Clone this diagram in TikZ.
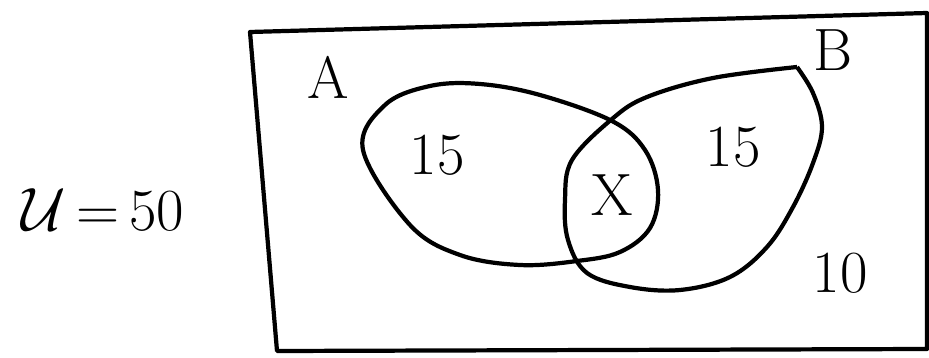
\documentclass[tikz,border=0pt]{standalone}
\usepackage{amsmath}
\usepackage{tikz}

\begin{document}
\begin{tikzpicture}[x=0.02cm, y=-0.02cm,
    outline/.style={line width=2.4pt, line join=round},
    tag/.style={font=\fontsize{34}{40}\selectfont, inner sep=0pt}]
  \useasboundingbox (0,0) rectangle (929,358);
  % universe
  \draw[outline] (250,32) -- (927,13) -- (927,349) -- (277,351) -- cycle;
  % set A
  \draw[outline] plot[smooth cycle, tension=0.6] coordinates {
    (363,150) (385,105) (430,86) (480,84) (540,95) (612,121) (645,150)
    (658,190) (650,228) (620,252) (577,261) (520,265) (460,255) (410,225)};
  % set B
  \draw[outline] plot[smooth, tension=0.6] coordinates {
    (797,67) (813,93) (822,127) (813,163) (793,207) (767,247) (730,277)
    (680,290) (630,287) (587,273) (568,240) (565,200) (572,160) (612,119)
    (647,97) (713,78) (797,67)};
  \node[tag] (labA) at (328,77) {A};
  \node[tag] (labB) at (833,50) {B};
  \node[tag] (onlyA) at (437,155) {15};
  \node[tag] (both) at (612,195) {X};
  \node[tag] (onlyB) at (733,147) {15};
  \node[tag] (rest) at (840,273) {10};
  \node[tag] (total) at (103,210) {\scalebox{1.4}{$\mathcal{U}$}\,=\,50};
\end{tikzpicture}
\end{document}
